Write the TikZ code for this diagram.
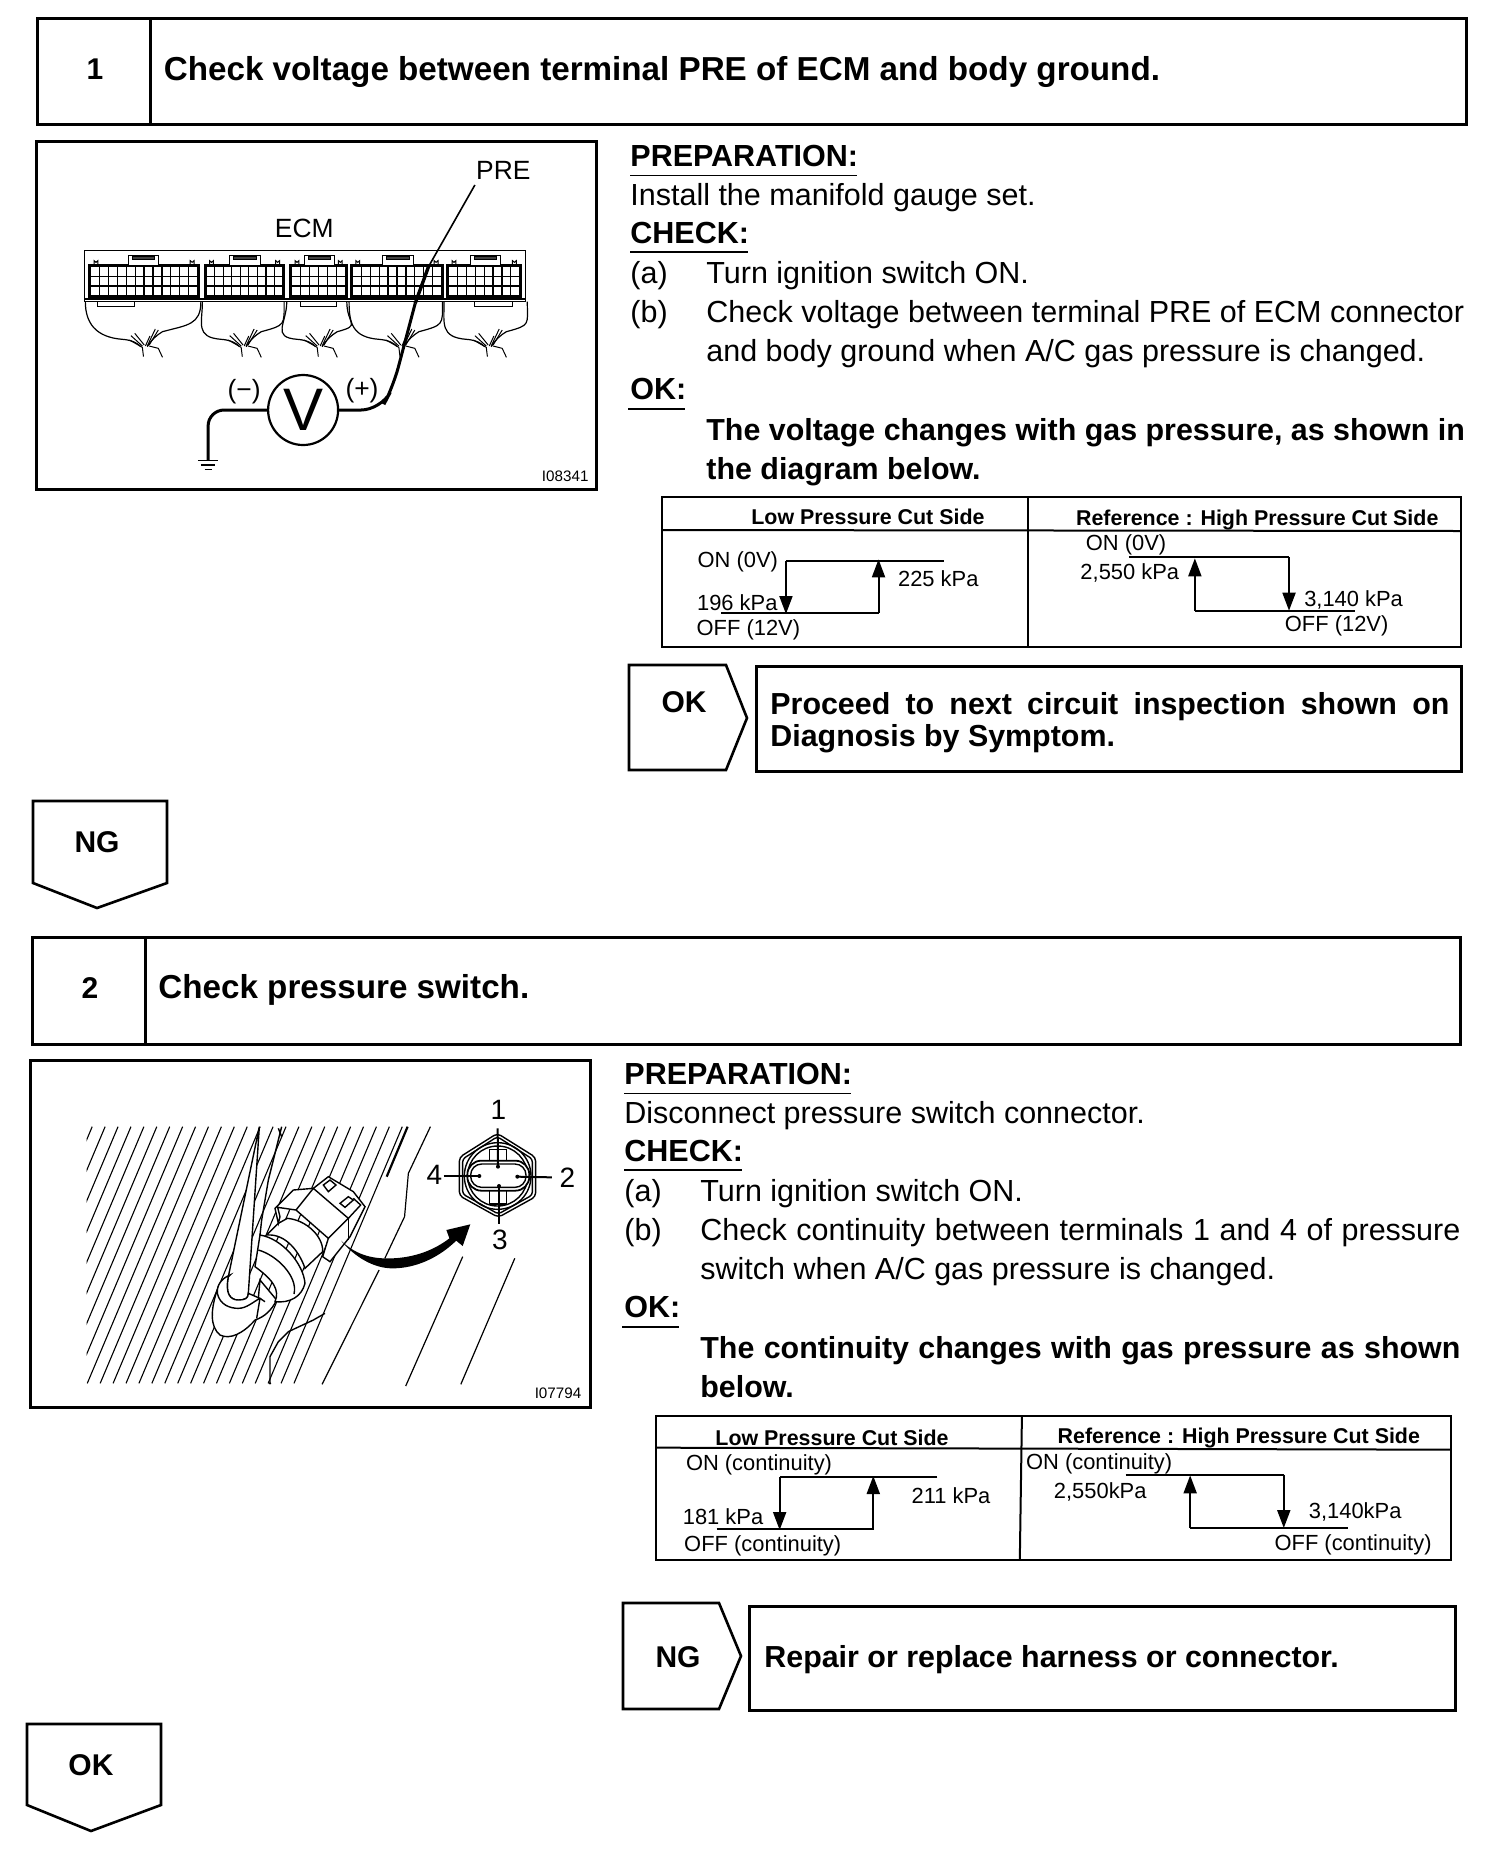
\documentclass[tikz,border=0pt]{standalone}
\usepackage{fontspec}
\setmainfont{Liberation Sans}
\usetikzlibrary{arrows.meta,calc}
\tikzset{
  body/.style={anchor=base west,inner sep=0pt,yshift=.5pt,font=\fontsize{15.25}{18}\selectfont},
  bodyb/.style={anchor=base west,inner sep=0pt,yshift=.5pt,font=\fontsize{15.2}{18}\selectfont\bfseries},
  head/.style={anchor=base west,inner sep=0pt,yshift=.5pt,font=\fontsize{15.25}{18}\selectfont\bfseries},
  titletxt/.style={anchor=west,inner sep=0pt,font=\fontsize{16.6}{18}\selectfont\bfseries},
  resulttxt/.style={anchor=west,inner sep=0pt,font=\fontsize{15.2}{18}\selectfont\bfseries},
  tag/.style={inner sep=0pt,font=\fontsize{15}{18}\selectfont\bfseries},
  tb/.style={anchor=center,inner sep=0pt,font=\fontsize{10.95}{12}\selectfont},
  tbh/.style={anchor=center,inner sep=0pt,font=\fontsize{10.7}{12}\selectfont\bfseries},
  fig/.style={inner sep=0pt,font=\fontsize{13.2}{15}\selectfont},
  digit/.style={inner sep=0pt,font=\fontsize{14}{15}\selectfont},
  code/.style={inner sep=0pt,anchor=east,font=\fontsize{7.6}{9}\selectfont},
  frame/.style={draw=black,line width=1.5pt},
  tline/.style={draw=black,line width=1pt},
  stepbox/.style={draw=black,line width=1.3pt},
  uline/.style={draw=black,line width=.7pt},
  thinw/.style={draw=black,line width=.5pt},
  sk/.style={draw=black,line width=.7pt},
  arrd/.style={draw=black,line width=1pt,-{Triangle[length=9pt,width=6.5pt]}},
}
\newcommand\blockc[4]{% x1 x2 ncols tabx
  \draw[line width=1.1pt,fill=black] (#1,405) rectangle (#2,500);
  \pgfmathsetmacro\cw{(#2-#1-6)/#3}
  \foreach \r/\ya/\yb in {1/412/437,2/441/466,3/470/495}{
    \foreach \c in {1,...,#3}{
      \pgfmathsetmacro\xa{#1+3+(\c-1)*\cw+1.7}
      \pgfmathsetmacro\xb{#1+3+\c*\cw-1.7}
      \fill[white] (\xa,\ya) rectangle (\xb,\yb);
    }
  }
  \draw[thinw,fill=white] (#4,375) rectangle ++(80,30);
  \draw[thinw,fill=black!75] (#4+10,380) rectangle ++(60,8);
  \draw[thinw] (#1+12,405) -- (#1+12,392) arc (180:0:5) -- (#1+22,405);
  \draw[thinw] (#2-22,405) -- (#2-22,392) arc (180:0:5) -- (#2-12,405);
}
\newcommand\wirec[3]{% xL xR xcenter
  \draw[line width=.6pt] (#1,515) .. controls (#1,580) and (#3-130,622) .. (#3-60,628)
     .. controls (#3-35,630) and (#3-20,640) .. (#3-12,650);
  \draw[line width=.6pt] (#2,515) .. controls (#2,585) and (#3+110,585) .. (#3+45,605)
     .. controls (#3+30,615) and (#3+15,630) .. (#3+5,650);
  \draw[thinw] (#3-38,617) -- (#3-8,648);
  \draw[thinw] (#3-28,610) -- (#3-3,645);
  \draw[thinw] (#3-42,630) -- (#3-8,652) -- (#3-5,680);
  \draw[thinw] (#3+12,618) -- (#3,648);
  \draw[thinw] (#3+26,597) -- (#3+5,648);
  \draw[thinw] (#3+34,600) -- (#3+10,645);
  \draw[thinw] (#3+10,648) -- (#3+34,655) -- (#3+45,682);
}
\begin{document}
\begin{tikzpicture}[x=.5pt,y=-.5pt]
\useasboundingbox (0,0) rectangle (1504,1858);
\fill[white] (0,0) rectangle (1504,1858);

% ---- step 1 header
\draw[frame] (37,18) rectangle (1466,124);
\draw[frame] (150,18) -- (150,124);
\node[tag] (n1) at (95,69) {1};
\node[titletxt] (t1) at (163.5,72) {Check voltage between terminal PRE of ECM and body ground.};

% ---- panel 1
\draw[frame] (36,141) rectangle (596,489);
\begin{scope}[shift={(20,130)},x=0.19pt,y=-0.16667pt]
  \draw[thinw] (170,360) rectangle (1330,515);
  \blockc{183}{470}{12}{285}
  \blockc{487}{695}{9}{552}
  \blockc{712}{860}{6}{748}
  \blockc{872}{1112}{10}{955}
  \blockc{1125}{1318}{8}{1185}
  \draw[line width=1pt] (170,508) -- (1330,508);
  \draw[thinw,fill=white] (205,515) rectangle (300,528);
  \draw[thinw,fill=white] (737,515) rectangle (833,528);
  \draw[thinw,fill=white] (1197,515) rectangle (1295,528);
  \wirec{172}{476}{330}
  \wirec{480}{695}{590}
  \wirec{702}{860}{790}
  \wirec{866}{1112}{1005}
  \wirec{1116}{1335}{1235}
  \node[fig] (ecm) at (748,295) {ECM};
  \node[fig] (pre) at (1272,120) {PRE};
  \node[fig] (minus) at (590,785) {(−)};
  \node[fig] (plus) at (900,782) {(+)};
  \node[circle,draw=black,line width=1.1pt,minimum size=35pt,inner sep=0pt,font=\fontsize{30}{30}\selectfont] (vm) at (745,840) {V};
  \coordinate (gnd) at (495,990);
  \draw[line width=1.5pt,rounded corners=8pt] (vm.west) -- (495,840) -- (gnd);
  \draw[line width=.8pt] (468,992) -- (522,992) (476,1005) -- (514,1005) (486,1018) -- (505,1018);
  \coordinate (p1a) at (1040,520);
  \coordinate (p1b) at (1197,165);
  \draw[line width=1.5pt,rounded corners=10pt] (vm.east) -- (950,840) -- (982,770) -- (p1a);
  \draw[line width=1.7pt] (p1a) -- (1075,410);
  \draw[line width=.8pt] (1075,410) -- (p1b);
  \node[code] (c1) at (1497,1040) {I08341};
\end{scope}

% ---- step 1 text
\node[head] (a1) at (630,167) {PREPARATION:};
\draw[uline] (630,175.5) -- (857,175.5);
\node[body] (a2) at (630,206) {Install the manifold gauge set.};
\node[head] (a3) at (630,244) {CHECK:};
\draw[uline] (630,252) -- (748,252);
\node[body] (a4) at (630,284) {(a)};
\node[body] (a5) at (706,284) {Turn ignition switch ON.};
\node[body] (a6) at (630,323.5) {(b)};
\node[body] (a7) at (706,323.5) {Check voltage between terminal PRE of ECM connector};
\node[body] (a8) at (706,362.5) {and body ground when A/C gas pressure is changed.};
\node[head] (a9) at (630,400.5) {OK:};
\draw[uline] (628,409) -- (685,409);
\node[bodyb] (a10) at (706,441) {The voltage changes with gas pressure, as shown in};
\node[bodyb] (a11) at (706,480) {the diagram below.};

% ---- table 1
\begin{scope}[shift={(650,490)},x=0.2645pt,y=-0.16667pt]
  \draw[tline] (22,22) rectangle (1533,470);
  \draw[tline] (22,120) -- (1533,123);
  \draw[tline] (715,22) -- (715,470);
  \node[tbh] (h1) at (412,82) {Low Pressure Cut Side};
  \node[tbh] (h2) at (1148,90) {Reference : High Pressure Cut Side};
  \node[tb] (o1) at (166,215) {ON (0V)};
  \node[tb] (o2) at (545,265) {225 kPa};
  \node[tb] (o3) at (165,338) {196 kPa};
  \node[tb] (o4) at (186,418) {OFF (12V)};
  \node[tb] (o5) at (900,165) {ON (0V)};
  \node[tb] (o6) at (907,248) {2,550 kPa};
  \node[tb] (o7) at (1330,330) {3,140 kPa};
  \node[tb] (o8) at (1298,407) {OFF (12V)};
  \draw[tline] (555,212) -- (258,212);
  \draw[tline] (135,368) -- (432,368);
  \draw[arrd] (257,212) -- (257,372);
  \draw[arrd] (432,368) -- (432,208);
  \draw[tline] (905,202) -- (1208,202);
  \draw[tline] (1030,362) -- (1332,362);
  \draw[arrd] (1030,362) -- (1030,205);
  \draw[arrd] (1208,202) -- (1208,362);
\end{scope}

% ---- OK / box
\draw[stepbox] (629,665) -- (726,665) -- (747,718) -- (726,770) -- (629,770) -- cycle;
\node[tag] (k1) at (684,702) {OK};
\draw[frame] (756,666) rectangle (1461,771);
\node[bodyb] (r1) at (770,715) {\makebox[339.5pt][s]{Proceed to next circuit inspection shown on}};
\node[bodyb] (r2) at (770,747) {Diagnosis by Symptom.};

% ---- NG down
\draw[stepbox] (33,801) -- (167,801) -- (167,883) -- (97,908) -- (33,883) -- cycle;
\node[tag] (k2) at (97,842) {NG};

% ---- step 2 header
\draw[frame] (32,937) rectangle (1460,1044);
\draw[frame] (145,937) -- (145,1044);
\node[tag] (n2) at (90,988) {2};
\node[titletxt] (t2) at (158,990) {Check pressure switch.};

% ---- panel 2
\draw[frame] (30,1060) rectangle (590,1407);
\begin{scope}[shift={(20,1050)},x=0.19pt,y=-0.16667pt]
  \begin{scope}
    \clip (175,230) rectangle (1030,1003);
    \foreach \xx in {190,224,...,1020}{
      \draw[line width=.55pt] (\xx,230) -- ++(-285,770);
    }
  \end{scope}
  \draw[line width=1.1pt] (1020,230) -- (965,380);
  \draw[line width=.6pt] (1080,230) -- (1022,370) -- (1012,500) -- (960,625);
  \draw[line width=.6pt] (945,660) -- (795,1003);
  \draw[line width=.6pt] (1165,620) -- (1015,1008);
  \draw[line width=.6pt] (1302,625) -- (1160,1003);
\end{scope}
% sensor, in 3x crop coordinates
\begin{scope}[shift={(210,1120)},x=0.16667pt,y=-0.16667pt]
  % hose
  \draw[sk,fill=white] (148,20) -- (55,470) .. controls (45,520) and (60,540) .. (85,540) .. controls (105,540) and (115,535) .. (115,520) -- cycle;
  \draw[sk] (215,20) -- (205,60) -- (175,180) -- (155,300) -- (150,345);
  \draw[sk] (205,25) -- (215,50);
  % lower clip
  \draw[sk,fill=white] (25,500) .. controls (0,570) and (0,620) .. (30,645) .. controls (60,660) and (100,640) .. (135,600) .. controls (165,590) and (185,570) .. (200,540) -- (150,480) -- (145,535) .. controls (110,560) and (50,580) .. (25,500) -- cycle;
  \draw[sk,fill=white] (60,465) .. controls (35,475) and (20,495) .. (22,520) .. controls (30,555) and (60,565) .. (85,565) .. controls (110,565) and (130,545) .. (150,535) -- (115,520) .. controls (115,535) and (105,540) .. (85,540) .. controls (60,540) and (45,520) .. (55,470) -- cycle;
  \draw[sk] (150,535) -- (140,595);
  \draw[sk] (150,535) -- (165,545);
  % body
  \draw[sk,fill=white] (150,345) .. controls (215,355) and (280,430) .. (285,490) .. controls (275,530) and (240,550) .. (195,545) .. controls (210,510) and (190,480) .. (135,440) -- cycle;
  \draw[sk] (145,390) .. controls (200,405) and (265,470) .. (252,522);
  % neck
  \draw[sk,fill=white] (205,310) -- (232,295) .. controls (290,300) and (340,350) .. (338,395) -- (285,445) .. controls (270,400) and (230,340) .. (170,345) -- cycle;
  % nut
  \draw[sk,fill=white] (195,265) -- (250,210) -- (310,205) -- (355,170) -- (430,215) -- (465,260) -- (440,310) -- (420,350) -- (360,425) -- (338,410) -- (355,355) -- (258,270) -- (203,262) -- (210,290) -- (205,310) -- cycle;
  \draw[sk] (258,270) -- (310,205) -- (415,295) -- (355,355);
  \draw[sk] (415,295) -- (452,255) -- (430,235);
  \draw[sk] (415,295) -- (415,360);
  \draw[sk] (340,195) -- (360,180) -- (378,195) -- (355,215) -- cycle;
  \draw[sk] (390,250) -- (415,230) -- (430,240) -- (405,262) -- cycle;
  % lower line
  \draw[sk] (345,580) -- (310,600) -- (235,635) -- (205,665) -- (180,710) -- (180,790);
  \fill (180,790) circle [radius=4];
\end{scope}
\begin{scope}[shift={(20,1050)},x=0.19pt,y=-0.16667pt]
  % arrow
  \fill[black] (845,572) .. controls (880,610) and (920,628) .. (980,625) .. controls (1040,622) and (1090,600) .. (1130,565) -- (1122,540) -- (1185,523) -- (1165,588) -- (1148,572) .. controls (1100,625) and (1040,655) .. (980,655) .. controls (930,655) and (880,620) .. cycle;
\end{scope}
% connector face, in 3x crop coordinates
\begin{scope}[shift={(440,1100)},x=0.16667pt,y=-0.16667pt]
  \draw[sk,rounded corners=2pt] (172,100) -- (287,172) -- (287,290) -- (175,352) -- (58,287) -- (58,172) -- cycle;
  \draw[sk,rounded corners=1.5pt] (172,110) -- (277,177) -- (277,285) -- (175,342) -- (68,282) -- (68,177) -- cycle;
  \draw[sk] (173,228) circle [radius=100];
  \draw[sk] (173,228) circle [radius=90];
  \draw[sk] (148,148) rectangle (200,185);
  \draw[sk] (148,272) rectangle (200,312);
  \draw[line width=.9pt,fill=white,rounded corners=7pt] (82,182) rectangle (268,272);
  \draw[sk,rounded corners=5.5pt] (92,192) rectangle (258,262);
  \node[digit] (l1) at (175,30) {1};
  \node[digit] (l2) at (382,232) {2};
  \node[digit] (l3) at (180,420) {3};
  \node[digit] (l4) at (-17,225) {4};
  \coordinate (c1a) at (174,200);
  \coordinate (c3a) at (177,258);
  \coordinate (c4a) at (118,228);
  \coordinate (c2a) at (232,230);
  \draw[line width=1pt] ($(l1.south)+(-2,25)$) -- (c1a);
  \draw[line width=1pt] ($(l3.north)+(-3,-18)$) -- (c3a);
  \draw[line width=1pt] ($(l4.east)+(3,3)$) -- (c4a);
  \draw[line width=1pt] ($(l2.west)+(-22,0)$) -- (c2a);
  \fill (c1a) circle [radius=6] (c3a) circle [radius=6] (c4a) circle [radius=6] (c2a) circle [radius=6];
\end{scope}
\begin{scope}[shift={(20,1050)},x=0.19pt,y=-0.16667pt]
  \node[code] (c2) at (1478,1030) {I07794};
\end{scope}

% ---- step 2 text
\node[head] (b1) at (624,1085) {PREPARATION:};
\draw[uline] (624,1093.5) -- (851,1093.5);
\node[body] (b2) at (624,1124) {Disconnect pressure switch connector.};
\node[head] (b3) at (624,1162) {CHECK:};
\draw[uline] (624,1170) -- (742,1170);
\node[body] (b4) at (624,1202) {(a)};
\node[body] (b5) at (700,1202) {Turn ignition switch ON.};
\node[body] (b6) at (624,1241.5) {(b)};
\node[body] (b7) at (700,1241.5) {\makebox[380pt][s]{Check continuity between terminals 1 and 4 of pressure}};
\node[body] (b8) at (700,1280.5) {switch when A/C gas pressure is changed.};
\node[head] (b9) at (624,1318.5) {OK:};
\draw[uline] (622,1327) -- (679,1327);
\node[bodyb] (b10) at (700,1359) {\makebox[380pt][s]{The continuity changes with gas pressure as shown}};
\node[bodyb] (b11) at (700,1398) {below.};

% ---- table 2
\begin{scope}[shift={(640,1400)},x=0.2645pt,y=-0.16667pt]
  \draw[tline] (30,47) rectangle (1533,480);
  \draw[tline] (30,143) -- (1533,149);
  \draw[tline] (722,47) -- (718,480);
  \node[tbh] (h3) at (363,112) {Low Pressure Cut Side};
  \node[tbh] (h4) at (1132,114) {Reference : High Pressure Cut Side};
  \node[tb] (q1) at (225,194) {ON (continuity)};
  \node[tb] (q2) at (588,288) {211 kPa};
  \node[tb] (q3) at (157,350) {181 kPa};
  \node[tb] (q4) at (232,437) {OFF (continuity)};
  \node[tb] (q5) at (868,192) {ON (continuity)};
  \node[tb] (q6) at (870,275) {2,550kPa};
  \node[tb] (q7) at (1352,336) {3,140kPa};
  \node[tb] (q8) at (1348,433) {OFF (continuity)};
  \draw[tline] (562,232) -- (264,232);
  \draw[tline] (145,386) -- (442,386);
  \draw[arrd] (264,232) -- (264,390);
  \draw[arrd] (441,386) -- (441,228);
  \draw[tline] (918,224) -- (1217,224);
  \draw[tline] (1040,383) -- (1338,383);
  \draw[arrd] (1040,383) -- (1040,226);
  \draw[arrd] (1217,224) -- (1217,384);
\end{scope}

% ---- NG / box
\draw[stepbox] (623,1603) -- (719,1603) -- (741,1656) -- (719,1709) -- (623,1709) -- cycle;
\node[tag] (k3) at (678,1657) {NG};
\draw[frame] (749,1606) rectangle (1455,1710);
\node[resulttxt] (r3) at (764,1660) {Repair or replace harness or connector.};

% ---- OK down
\draw[stepbox] (27,1724) -- (161,1724) -- (161,1805) -- (91,1831) -- (27,1805) -- cycle;
\node[tag] (k4) at (91,1765) {OK};
\end{tikzpicture}
\end{document}
